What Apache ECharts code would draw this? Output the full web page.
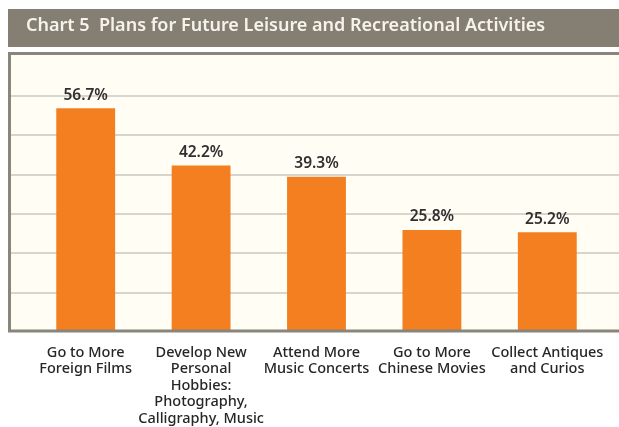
<!DOCTYPE html>
<html>
<head>
<meta charset="utf-8">
<script src="https://cdn.jsdelivr.net/npm/echarts@6/dist/echarts.min.js"></script>
<style>
  html, body { margin: 0; padding: 0; background: #ffffff; }
  #chart { width: 619px; height: 427px; }
</style>
</head>
<body>
<div id="chart"></div>
<script>
// Chart 5 data: share of respondents planning each activity (%)
const categories = [
  'Go to More\nForeign Films',
  'Develop New\nPersonal\nHobbies:\nPhotography,\nCalligraphy, Music',
  'Attend More\nMusic Concerts',
  'Go to More\nChinese Movies',
  'Collect Antiques\nand Curios'
];
const values = [56.7, 42.2, 39.3, 25.8, 25.2];
const titleText = 'Chart 5  Plans for Future Leisure and Recreational Activities';

const chart = echarts.init(document.getElementById('chart'), null, { renderer: 'canvas' });

const FONT = '"Noto Sans", "Open Sans", sans-serif';
const Y_MAX = 70;
const Y_STEP = 10;

chart.setOption({
  backgroundColor: '#ffffff',
  animation: false,
  graphic: [
    // title banner
    { type: 'rect', z: -20, shape: { x: 8, y: 9, width: 700, height: 38 },
      style: { fill: '#857f73' } },
    { type: 'text', z: 10, left: 26, top: 17,
      style: { text: titleText, fill: '#f6f3ec', font: '600 18px ' + FONT } },
    // cream plot panel
    { type: 'rect', z: -10, shape: { x: 9.5, y: 53.5, width: 700, height: 277.5 },
      style: { fill: '#fffdf4' } },
    // panel frame drawn over the bars
    { type: 'rect', z: 100, silent: true, shape: { x: 9.5, y: 53.5, width: 700, height: 277.5 },
      style: { fill: 'none', stroke: '#8a857a', lineWidth: 3 } }
  ],
  grid: [
    // bars
    { left: 28, right: 14, top: 56, bottom: 95 },
    // full-width gridlines across the panel
    { left: 10, right: 0, top: 56, bottom: 95 }
  ],
  xAxis: [{
    type: 'category',
    gridIndex: 0,
    data: categories,
    axisLine: { show: false },
    axisTick: { show: false },
    axisLabel: {
      interval: 0,
      margin: 13,
      color: '#262626',
      fontFamily: FONT,
      fontSize: 14.5,
      fontWeight: 500,
      lineHeight: 16.5,
      align: 'center',
      verticalAlign: 'top'
    }
  }, {
    type: 'value',
    gridIndex: 1,
    show: false
  }],
  yAxis: [{
    type: 'value',
    gridIndex: 0,
    min: 0,
    max: Y_MAX,
    interval: Y_STEP,
    axisLabel: { show: false },
    axisLine: { show: false },
    axisTick: { show: false },
    splitLine: { show: false }
  }, {
    type: 'value',
    gridIndex: 1,
    min: 0,
    max: Y_MAX,
    interval: Y_STEP,
    axisLabel: { show: false },
    axisLine: { show: false },
    axisTick: { show: false },
    splitLine: {
      show: true,
      showMinLine: false,
      showMaxLine: false,
      lineStyle: { color: '#cbc8bf', width: 1.5 }
    }
  }],
  series: [{
    type: 'bar',
    xAxisIndex: 0,
    yAxisIndex: 0,
    data: values,
    barWidth: '51%',
    itemStyle: { color: '#f47f20' },
    label: {
      show: true,
      position: 'top',
      distance: 5,
      formatter: p => p.value.toFixed(1) + '%',
      color: '#303030',
      fontFamily: FONT,
      fontSize: 15.5,
      fontWeight: 600
    }
  }]
});
</script>
</body>
</html>
